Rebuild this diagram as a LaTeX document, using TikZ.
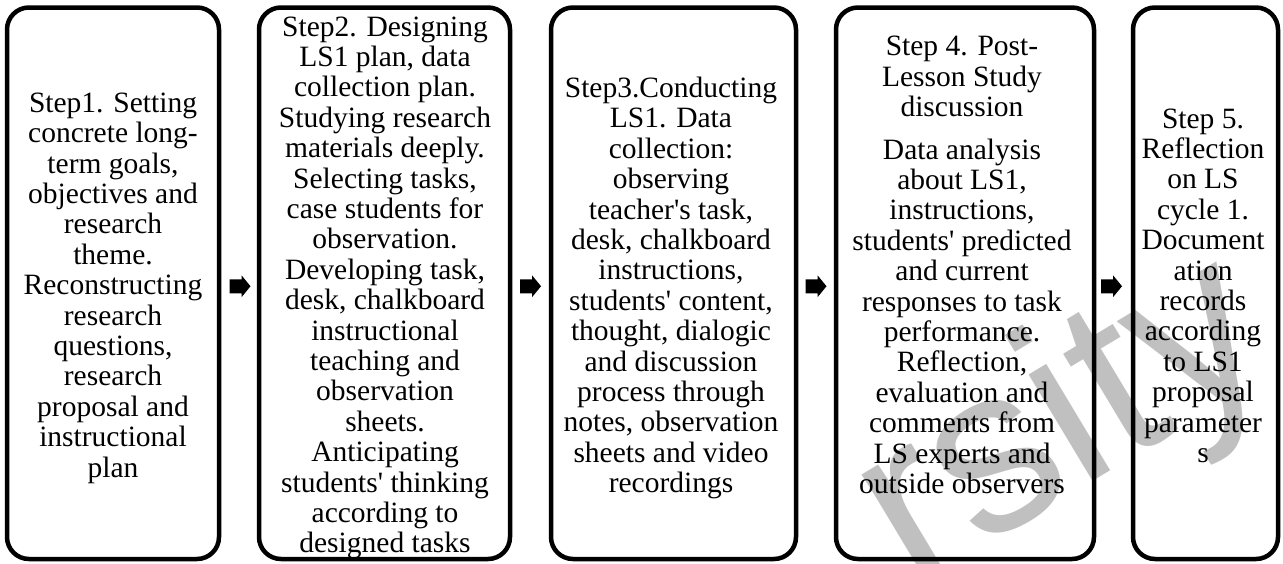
\documentclass[tikz,border=0pt]{standalone}
\usepackage{fontspec}
\setmainfont{Liberation Serif}
\newfontfamily\wmfont{Liberation Sans}
\usetikzlibrary{calc}
\definecolor{wmgray}{RGB}{192,192,192}
\tikzset{
  stepbox/.style={draw=black, line width=4.5pt, rounded corners=22pt, inner sep=0pt, outer sep=0pt},
  steptext/.style={align=center, inner sep=0pt, font=\fontsize{29.5}{30.4}\selectfont},
  flowarrow/.style={fill=black},
  watermark/.style={text=wmgray, inner sep=0pt, font=\wmfont\fontsize{235}{235}\selectfont, rotate=31, anchor=base west},
}
\newcommand{\blockarrow}[1]{%
  \fill[flowarrow] ($(#1)+(-10.5,-7)$) -- ++(12,0) -- ++(0,-4) -- ++(9,11) -- ++(-9,11) -- ++(0,-4) -- ++(-12,0) -- cycle;}
\begin{document}
\begin{tikzpicture}[x=1pt,y=-1pt]
\useasboundingbox (0,0) rectangle (1283,563);
% watermark
\node[watermark] (wm) at (912,590) {rsity};
% boxes
\node[stepbox, minimum width=212pt, minimum height=551.5pt] (b1) at (113,283.25) {};
\node[stepbox, minimum width=251pt, minimum height=551.5pt] (b2) at (384.5,283.25) {};
\node[stepbox, minimum width=245pt, minimum height=551.5pt] (b3) at (673.5,283.25) {};
\node[stepbox, minimum width=258pt, minimum height=551.5pt] (b4) at (965,283.25) {};
\node[stepbox, minimum width=145pt, minimum height=551.5pt] (b5) at (1205.5,283.25) {};
% texts
\node[steptext] (t1) at (113,288) {Step1. Setting\\concrete long-\\term goals,\\objectives and\\research\\theme.\\Reconstructing\\research\\questions,\\research\\proposal and\\instructional\\plan};
\node[steptext] (t2) at (385,288) {Step2. Designing\\LS1 plan, data\\collection plan.\\Studying research\\materials deeply.\\Selecting tasks,\\case students for\\observation.\\Developing task,\\desk, chalkboard\\instructional\\teaching and\\observation\\sheets.\\Anticipating\\students\textquotesingle{} thinking\\according to\\designed tasks};
\node[steptext] (t3) at (671,288) {Step3.Conducting\\LS1. Data\\collection:\\observing\\teacher\textquotesingle{}s task,\\desk, chalkboard\\instructions,\\students\textquotesingle{} content,\\thought, dialogic\\and discussion\\process through\\notes, observation\\sheets and video\\recordings};
\node[steptext] (t4) at (962,265) {Step 4. Post-\\Lesson Study\\discussion\\[12pt]Data analysis\\about LS1,\\instructions,\\students\textquotesingle{} predicted\\and current\\responses to task\\performance.\\Reflection,\\evaluation and\\comments from\\LS experts and\\outside observers};
\node[steptext] (t5) at (1203,285.7) {Step 5.\\Reflection\\on LS\\cycle 1.\\Document\\ation\\records\\according\\to LS1\\proposal\\parameter\\s};
% arrows between boxes
\coordinate (a1) at ($(b1.east)!0.5!(b2.west)+(1,3)$);
\coordinate (a2) at ($(b2.east)!0.5!(b3.west)+(0,3)$);
\coordinate (a3) at ($(b3.east)!0.5!(b4.west)+(0,3)$);
\coordinate (a4) at ($(b4.east)!0.5!(b5.west)+(-2,3)$);
\blockarrow{a1}
\blockarrow{a2}
\blockarrow{a3}
\blockarrow{a4}
\end{tikzpicture}
\end{document}
